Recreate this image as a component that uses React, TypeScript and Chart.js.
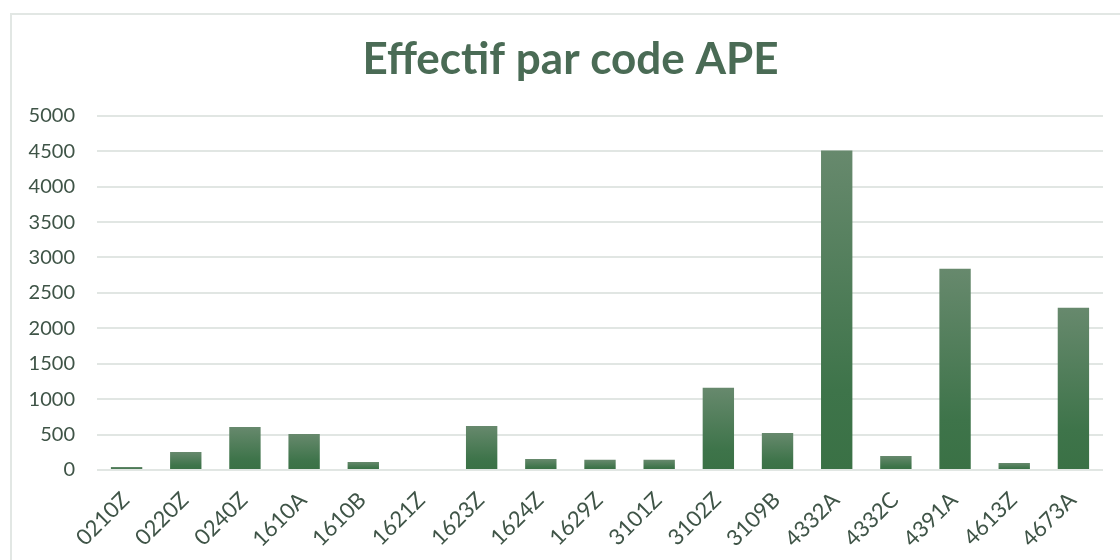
import React, { useEffect, useRef } from "react";
import { Chart, registerables } from "chart.js";
Chart.register(...registerables);

const categories = ["0210Z", "0220Z", "0240Z", "1610A", "1610B", "1621Z", "1623Z", "1624Z", "1629Z", "3101Z", "3102Z", "3109B", "4332A", "4332C", "4391A", "4613Z", "4673A"];
const effectifs = [42, 255, 607, 508, 113, 0, 622, 155, 143, 143, 1160, 522, 4510, 198, 2840, 99, 2290];
const yMin = 0;
const yMax = 5000;
const yStep = 500;
const titleText = "Effectif par code APE";

const TEXT = "#3f5447";
const TITLE = "#4a6b55";
const TOP = "#67896d";
const MID = "#3e744a";
const BOT = "#3a7145";

const shiftTitle = {
  id: "shiftTitle",
  afterLayout(chart: any) {
    const t = chart.titleBlock;
    if (t) {
      t.left += 15;
      t.right += 15;
    }
  },
};

export default function App() {
  const ref = useRef<HTMLCanvasElement | null>(null);
  useEffect(() => {
    document.body.style.margin = "0";
    const chart = new Chart(ref.current as HTMLCanvasElement, {
      type: "bar",
      data: {
        labels: categories,
        datasets: [
          {
            data: effectifs,
            barPercentage: 0.53,
            categoryPercentage: 1,
            backgroundColor: (c: any) => {
              const ch = c.chart;
              const { chartArea, ctx, scales } = ch;
              if (!chartArea || c.raw == null) return BOT;
              const y0 = scales.y.getPixelForValue(0);
              const y1 = scales.y.getPixelForValue(c.raw);
              if (y0 - y1 < 1) return BOT;
              const g = ctx.createLinearGradient(0, y1, 0, y0);
              g.addColorStop(0, TOP);
              g.addColorStop(0.75, MID);
              g.addColorStop(1, BOT);
              return g;
            },
          },
        ],
      },
      plugins: [shiftTitle],
      options: {
        responsive: false,
        animation: false,
        layout: { padding: { left: 8, right: 17, top: 18, bottom: 0 } },
        plugins: {
          legend: { display: false },
          tooltip: { enabled: false },
          title: {
            display: true,
            text: titleText,
            color: TITLE,
            font: { family: "Lato", size: 44, weight: "bold" },
            padding: { top: 15, bottom: 30 },
          },
        },
        scales: {
          x: {
            grid: { display: false },
            border: { display: false },
            afterFit: (s: any) => {
              s.height = 90;
              s.paddingLeft = 0;
              s.paddingRight = 0;
            },
            ticks: {
              minRotation: 45,
              maxRotation: 45,
              color: TEXT,
              font: { family: "Lato", size: 22 },
              padding: 9,
              labelOffset: -1,
            },
          },
          y: {
            min: yMin,
            max: yMax,
            afterFit: (s: any) => {
              s.width = 89;
            },
            ticks: {
              stepSize: yStep,
              color: TEXT,
              font: { family: "Lato", size: 20 },
              padding: 22,
              callback: (v: any) => String(v),
            },
            grid: { color: "#e1e6e3", lineWidth: 2, drawTicks: false },
            border: { display: false },
          },
        },
      },
    } as any);
    return () => chart.destroy();
  }, []);
  return (
    <div style={{ position: "fixed", left: 0, top: 0, width: 1120, height: 560, overflow: "hidden", background: "#fff" }}>
      <div style={{ position: "absolute", left: 10, top: 13, width: 1140, height: 580, border: "2px solid #e2e7e4", boxSizing: "border-box" }} />
      <canvas ref={ref} width={1120} height={560} style={{ position: "absolute", left: 0, top: 0 }} />
    </div>
  );
}
